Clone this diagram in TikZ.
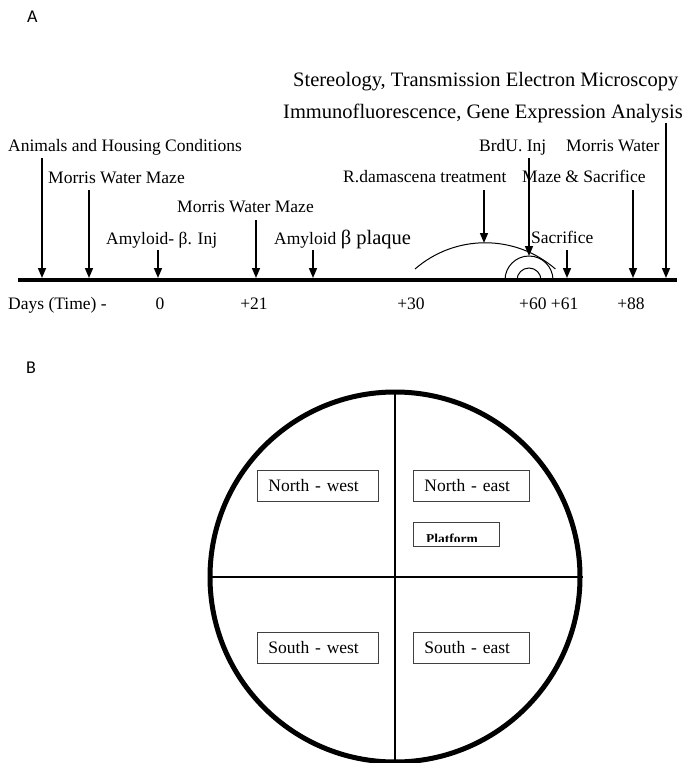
\documentclass[tikz,border=0pt]{standalone}
\usepackage{fontspec}
\setmainfont{Liberation Serif}
\newfontfamily\lblfont{Carlito}
\usetikzlibrary{arrows.meta}
\begin{document}
\begin{tikzpicture}[x=1pt,y=-1pt,
  lbl/.style={font=\fontsize{17.5}{20}\selectfont, anchor=base west, inner sep=0pt},
  num/.style={font=\fontsize{17.5}{20}\selectfont, anchor=base, inner sep=0pt},
  big/.style={font=\fontsize{20.5}{24}\selectfont, anchor=base west, inner sep=0pt},
  panel/.style={font=\lblfont\fontsize{18}{20}\selectfont, anchor=base west, inner sep=0pt},
  arr/.style={line width=1.6pt, -{Triangle[width=8pt,length=10pt]}},
  qbox/.style={draw=black!75, line width=0.9pt, minimum height=31pt, inner xsep=11pt,
     align=left, font=\fontsize{17.5}{20}\selectfont},
  arcline/.style={line width=1pt}
]
\useasboundingbox (0,0) rectangle (684,763);

% ---------- Panel A ----------
\node[panel] (pA) at (27,22) {A};

\node[big] (stereo) at (293,86) {Stereology, Transmission Electron Microscopy};
\node[big] (immuno) at (283,118) {Immunofluorescence, Gene Expression Analysis};

\node[lbl] (animals) at (8,151) {Animals and Housing Conditions};
\node[lbl] (mwm1) at (48,183) {Morris Water Maze};
\node[lbl] (mwm2) at (177,212) {Morris Water Maze};
\node[lbl] (abinj) at (106,244) {Amyloid- β. Inj};
\node[lbl] (plaque) at (274,244) {Amyloid {\fontsize{20.5}{22}\selectfont β plaque}};
\node[lbl] (rdam) at (343,182) {R.damascena treatment};
\node[lbl] (brdu) at (479,151) {BrdU. Inj};
\node[lbl] (mwater) at (566,151) {Morris Water};
\node[lbl] (mazesac) at (522,182) {Maze \& Sacrifice};
\node[lbl] (sac) at (531,243) {Sacrifice};

% timeline axis
\coordinate (tl) at (18,280);
\coordinate (tr) at (677,280);
\draw[line width=3.5pt] (tl) -- (tr);

% arrows
\coordinate (a1s) at (42,158);  \coordinate (a1e) at (42,278);
\coordinate (a2s) at (89,190);  \coordinate (a2e) at (89,278);
\coordinate (a3s) at (158,250); \coordinate (a3e) at (158,278);
\coordinate (a4s) at (256,220); \coordinate (a4e) at (256,278);
\coordinate (a5s) at (313,250); \coordinate (a5e) at (313,278);
\coordinate (a6s) at (484,190); \coordinate (a6e) at (484,243);
\coordinate (a7s) at (529,158); \coordinate (a7e) at (529,256);
\coordinate (a8s) at (567,250); \coordinate (a8e) at (567,278);
\coordinate (a9s) at (633,190); \coordinate (a9e) at (633,278);
\coordinate (a10s) at (666,123); \coordinate (a10e) at (666,278);
\draw[arr] (a1s) -- (a1e);
\draw[arr] (a2s) -- (a2e);
\draw[arr] (a3s) -- (a3e);
\draw[arr] (a4s) -- (a4e);
\draw[arr] (a5s) -- (a5e);
\draw[arr] (a6s) -- (a6e);
\draw[arr] (a7s) -- (a7e);
\draw[arr] (a8s) -- (a8e);
\draw[arr] (a9s) -- (a9e);
\draw[arr] (a10s) -- (a10e);

% treatment arcs
\coordinate (bigarc) at (415,269);
\coordinate (medarc) at (505,280);
\coordinate (smallarc) at (517,280);
\draw[arcline] (bigarc) arc[start angle=-131, end angle=-49, radius=107];
\draw[arcline] (medarc) arc[start angle=180, end angle=360, radius=24];
\draw[arcline] (smallarc) arc[start angle=180, end angle=360, radius=12];

% days row
\node[lbl] (days) at (8,309) {Days (Time) -};
\node[num] (d0) at (160,309) {0};
\node[num] (d21) at (254,309) {+21};
\node[num] (d30) at (411,309) {+30};
\node[lbl] (d60) at (519,309) {+60 +61};
\node[num] (d88) at (631,309) {+88};

% ---------- Panel B ----------
\node[panel] (pB) at (26,373) {B};

\node[circle, draw, line width=5pt, minimum size=370pt, inner sep=0pt] (pool) at (395,577) {};
\draw[line width=2pt] (pool.north) -- (pool.south);
\draw[line width=2pt] (pool.west) -- (pool.east);

\node[qbox, text width=99pt, anchor=west] (nw) at (257,485.5) {North - west};
\node[qbox, text width=94pt, anchor=west] (ne) at (413,485.5) {North - east};
\node[qbox, text width=99pt, anchor=west] (sw) at (257,647.5) {South - west};
\node[qbox, text width=94pt, anchor=west] (se) at (413,647.5) {South - east};

\node[draw=black!75, line width=0.9pt, minimum width=86pt, minimum height=24pt,
      inner sep=0pt, anchor=north west] (plat) at (413,522) {};
\begin{scope}
  \clip (414,523) rectangle (498,541);
  \node[anchor=base west, inner sep=0pt, font=\bfseries\fontsize{13.5}{15}\selectfont]
     (platt) at (426,543.5) {Platform};
\end{scope}

\end{tikzpicture}
\end{document}
